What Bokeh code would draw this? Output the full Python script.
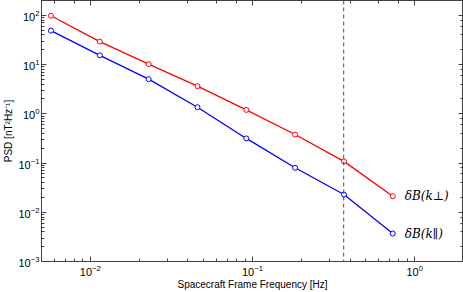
from bokeh.plotting import figure
from bokeh.models import LogAxis, Span, CustomJSTickFormatter
from bokeh.core.properties import value
from bokeh.embed import file_html
from bokeh.resources import INLINE

# Data
freq_hz = [0.00572, 0.01144, 0.02289, 0.04578, 0.09155, 0.1831, 0.3662, 0.7324]
psd_perp = [98, 29.2, 10.2, 3.64, 1.2, 0.38, 0.108, 0.0211]
psd_par = [49, 15.4, 5.05, 1.36, 0.316, 0.080, 0.0229, 0.0037]
cutoff_freq = [0.365]
label_perp = "δB(k⊥)"
label_par = "δB(k∥)"
x_label = "Spacecraft Frame Frequency [Hz]"
y_label = "PSD [nT²Hz⁻¹]"
x_range = (0.005, 2.0)
y_range = (1e-3, 200.0)

AX = "#404040"
FONT = "Liberation Sans"

p = figure(width=463, height=292, x_axis_type="log", y_axis_type="log",
           x_range=x_range, y_range=y_range, output_backend="svg",
           toolbar_location=None, min_border_left=0, min_border_right=0,
           min_border_top=0, min_border_bottom=0)
p.grid.visible = False
p.outline_line_color = AX
p.outline_line_width = 1
p.border_fill_color = "white"

def style(ax, labels=True):
    ax.axis_line_color = AX
    ax.major_tick_line_color = AX
    ax.minor_tick_line_color = AX
    ax.major_tick_in = 5
    ax.major_tick_out = 0
    ax.minor_tick_in = 3
    ax.minor_tick_out = 0
    ax.major_label_text_font = FONT
    ax.major_label_text_color = "black"
    if labels:
        ax.major_label_text_font_size = "11px"
    else:
        ax.major_label_text_font_size = "1px"
        ax.major_label_text_alpha = 0
        ax.formatter = CustomJSTickFormatter(code="return ' '")
    ax.axis_label_text_font = FONT
    ax.axis_label_text_font_size = "10px"
    ax.axis_label_text_font_style = "normal"
    ax.axis_label_text_color = "black"

style(p.xaxis[0])
style(p.yaxis[0])
p.xaxis[0].axis_label = x_label
p.yaxis[0].axis_label = y_label
p.xaxis[0].major_label_standoff = 3
p.xaxis[0].axis_label_standoff = 0
p.yaxis[0].major_label_standoff = 2
p.yaxis[0].axis_label_standoff = 1

top = LogAxis()
right = LogAxis()
for a in (top, right):
    style(a, labels=False)
    a.major_label_standoff = 0
p.add_layout(top, "above")
p.add_layout(right, "right")

for f in cutoff_freq:
    p.add_layout(Span(location=f, dimension="height", line_color="#505050",
                      line_dash="4 3", line_width=1))

RED = "#ff0000"
BLUE = "#0000ff"
p.line(freq_hz, psd_perp, line_color=RED, line_width=1.3)
p.scatter(freq_hz, psd_perp, marker="circle", size=5, line_color=RED,
          fill_color="white", line_width=1)
p.line(freq_hz, psd_par, line_color=BLUE, line_width=1.3)
p.scatter(freq_hz, psd_par, marker="circle", size=5, line_color=BLUE,
          fill_color="white", line_width=1)

p.text([freq_hz[-1]], [psd_perp[-1]], text=[label_perp], x_offset=12,
       text_baseline="middle", text_align="left", text_font=value("DejaVu Serif"),
       text_font_style="italic", text_font_size="12px", text_color="black")
p.text([freq_hz[-1]], [psd_par[-1]], text=[label_par], x_offset=12,
       text_baseline="middle", text_align="left", text_font=value("DejaVu Serif"),
       text_font_style="italic", text_font_size="12px", text_color="black")

open("out.html", "w").write(file_html(p, INLINE))
